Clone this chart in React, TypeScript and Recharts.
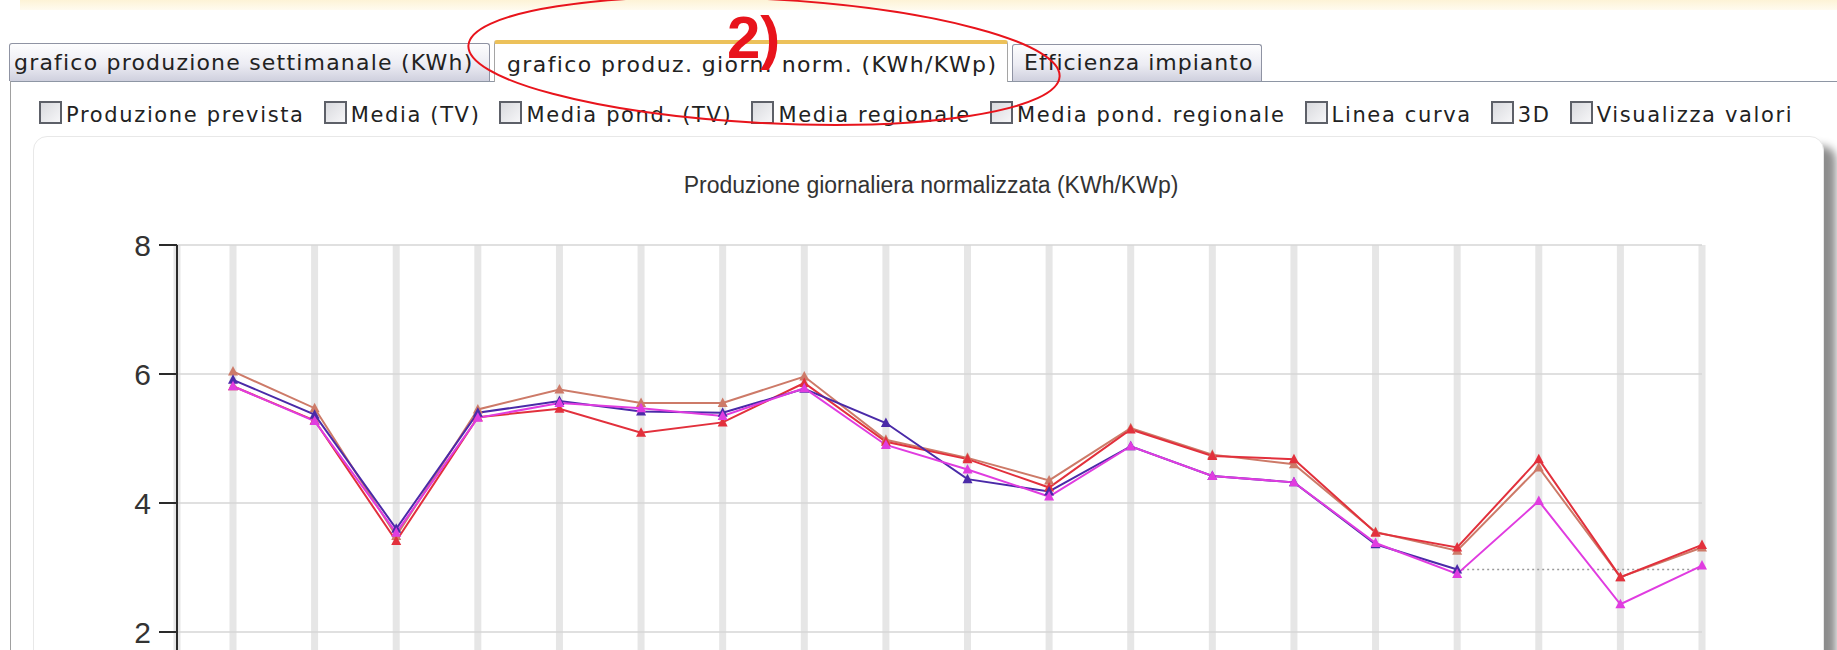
import { LineChart, Line, XAxis, YAxis, CartesianGrid } from 'recharts'

// giorni (etichette asse X, fuori dall'inquadratura)
const days = ['1', '2', '3', '4', '5', '6', '7', '8', '9', '10', '11', '12', '13', '14', '15', '16', '17', '18', '19']

// KWh/KWp per giorno
const serieArancio = [6.04, 5.47, 3.49, 5.45, 5.76, 5.55, 5.55, 5.96, 4.98, 4.70, 4.35, 5.16, 4.75, 4.60, 3.55, 3.26, 4.55, 2.85, 3.31]
const serieRossa = [5.81, 5.28, 3.41, 5.33, 5.46, 5.09, 5.25, 5.86, 4.95, 4.68, 4.24, 5.14, 4.73, 4.68, 3.54, 3.31, 4.68, 2.85, 3.35]
const serieBlu = [5.91, 5.37, 3.60, 5.40, 5.58, 5.42, 5.40, 5.77, 5.24, 4.37, 4.18, 4.88, 4.42, 4.32, 3.36, 2.97, null, null, null]
const serieMagenta = [5.81, 5.27, 3.54, 5.32, 5.55, 5.47, 5.35, 5.78, 4.90, 4.52, 4.10, 4.88, 4.42, 4.32, 3.38, 2.90, 4.03, 2.43, 3.03]
const serieTratteggio = [null, null, null, null, null, null, null, null, null, null, null, null, null, null, null, 2.97, 2.97, 2.97, 2.97]

const yTicks = [0, 2, 4, 6, 8]

const tabs = ['grafico produzione settimanale (KWh)', 'grafico produz. giorn. norm. (KWh/KWp)', 'Efficienza impianto']
const options = ['Produzione prevista', 'Media (TV)', 'Media pond. (TV)', 'Media regionale', 'Media pond. regionale', 'Linea curva', '3D', 'Visualizza valori']

const data = days.map((d, i) => ({
  day: d,
  arancio: serieArancio[i],
  rossa: serieRossa[i],
  blu: serieBlu[i],
  magenta: serieMagenta[i],
  tratt: serieTratteggio[i],
}))

const uiFont = '"DejaVu Sans", Tahoma, sans-serif'
const chartFont = '"Liberation Sans", Arial, sans-serif'

// triangolino come marker
const triangle = (color: string) => (props: any) => {
  const { cx, cy, index } = props
  if (cx == null || cy == null || props.value == null) return <g key={`t-${index}`} />
  return (
    <polygon
      key={`t-${index}`}
      points={`${cx},${cy - 5.5} ${cx - 5},${cy + 4} ${cx + 5},${cy + 4}`}
      fill={color}
    />
  )
}

const tabBase = {
  position: 'absolute' as const,
  fontFamily: uiFont,
  fontSize: 22,
  letterSpacing: 1.4,
  color: '#222',
  whiteSpace: 'nowrap' as const,
  boxSizing: 'border-box' as const,
}

const tabGradient = 'linear-gradient(#fdfdfe, #ececf3 55%, #cfd0de)'

export default function App() {
  return (
    <div
      style={{
        position: 'absolute',
        left: 0,
        top: 0,
        width: 1837,
        height: 650,
        overflow: 'hidden',
        background: '#fff',
      }}
    >
      {/* striscia gialla in alto */}
      <div style={{ position: 'absolute', left: 20, top: 0, width: 1817, height: 10, background: 'linear-gradient(#fdf3d6, #fffbef)' }} />

      {/* linea base delle schede + bordo sinistro */}
      <div style={{ position: 'absolute', left: 10, top: 81, width: 1827, height: 1, background: '#8e96a4' }} />
      <div style={{ position: 'absolute', left: 10, top: 81, width: 1, height: 600, background: '#a0a0a0' }} />

      {/* schede */}
      <div
        style={{
          ...tabBase,
          left: 9,
          top: 43,
          width: 481,
          height: 38,
          paddingTop: 6,
          paddingLeft: 4,
          letterSpacing: 1.2,
          border: '1px solid #8f93a3',
          borderBottom: 'none',
          borderRadius: '3px 3px 0 0',
          background: tabGradient,
        }}
      >
        {tabs[0]}
      </div>
      <div
        style={{
          ...tabBase,
          left: 494,
          top: 40,
          width: 514,
          height: 42,
          paddingTop: 8,
          paddingLeft: 12,
          borderLeft: '1px solid #a5a5a5',
          borderRight: '1px solid #a5a5a5',
          borderTop: '4px solid #ecc15a',
          borderRadius: '3px 3px 0 0',
          background: '#fff',
        }}
      >
        {tabs[1]}
      </div>
      <div
        style={{
          ...tabBase,
          left: 1012,
          top: 44,
          width: 250,
          height: 37,
          paddingTop: 5,
          paddingLeft: 11,
          letterSpacing: 1,
          border: '1px solid #8f93a3',
          borderBottom: 'none',
          borderRadius: '3px 3px 0 0',
          background: tabGradient,
        }}
      >
        {tabs[2]}
      </div>

      {/* opzioni */}
      <div
        style={{
          position: 'absolute',
          left: 39,
          top: 98,
          height: 28,
          display: 'flex',
          alignItems: 'center',
          fontFamily: uiFont,
          fontSize: 21,
          letterSpacing: 1.65,
          color: '#222',
          whiteSpace: 'nowrap',
        }}
      >
        {options.map((o) => (
          <div key={o} style={{ display: 'flex', alignItems: 'center', marginRight: 19 }}>
            <div
              style={{
                width: 23,
                height: 23,
                boxSizing: 'border-box',
                border: '2px solid #5d6068',
                background: 'linear-gradient(135deg, #d9dade, #f6f6f8)',
                marginRight: 4,
              }}
            />
            <span style={{ position: 'relative', top: 3 }}>{o}</span>
          </div>
        ))}
      </div>

      {/* pannello del grafico */}
      <div
        style={{
          position: 'absolute',
          left: 33,
          top: 136,
          width: 1789,
          height: 620,
          background: '#fff',
          border: '1px solid #e8e8e8',
          borderRadius: 14,
          boxShadow: '12px 10px 8px rgba(0,0,0,0.45)',
        }}
      />

      <div
        style={{
          position: 'absolute',
          left: 0,
          width: 1862,
          top: 172,
          textAlign: 'center',
          fontFamily: chartFont,
          fontSize: 23,
          color: '#333',
        }}
      >
        Produzione giornaliera normalizzata (KWh/KWp)
      </div>

      <div style={{ position: 'absolute', left: 0, top: 0 }}>
        <LineChart
          width={1837}
          height={800}
          data={data}
          margin={{ top: 245, right: 135, bottom: 39, left: 117 }}
        >
          <CartesianGrid horizontal={false} stroke="#e6e6e6" strokeWidth={7} />
          <CartesianGrid vertical={false} stroke="#d6d6d6" strokeWidth={1.5} />
          <XAxis dataKey="day" hide padding={{ left: 56, right: 0 }} />
          <YAxis
            width={60}
            domain={[0, 8]}
            ticks={yTicks}
            tickSize={18}
            tickMargin={8}
            stroke="#2a2a2a"
            strokeWidth={2}
            tick={{ fontSize: 30, fill: '#333', fontFamily: chartFont }}
            tickFormatter={(v) => (v === 0 ? '' : String(v))}
          />
          <Line
            dataKey="tratt"
            stroke="#9a9a9a"
            strokeWidth={1.5}
            strokeDasharray="2 3"
            dot={false}
            isAnimationActive={false}
          />
          <Line dataKey="arancio" stroke="#cd7a68" strokeWidth={2} dot={triangle('#cd7a68')} isAnimationActive={false} />
          <Line dataKey="rossa" stroke="#e2303c" strokeWidth={2} dot={triangle('#e2303c')} isAnimationActive={false} />
          <Line dataKey="blu" stroke="#4a2aa8" strokeWidth={2} dot={triangle('#4a2aa8')} isAnimationActive={false} />
          <Line dataKey="magenta" stroke="#e03ce0" strokeWidth={2} dot={triangle('#e03ce0')} isAnimationActive={false} />
        </LineChart>
      </div>

      {/* annotazione rossa */}
      <svg style={{ position: 'absolute', left: 0, top: 0 }} width={1837} height={650}>
        <ellipse cx={764} cy={61} rx={296} ry={62} fill="none" stroke="#e8141c" strokeWidth={2} transform="rotate(3 764 61)" />
        <text x={727} y={58} fill="#e8141c" fontFamily={chartFont} fontWeight="bold" fontSize={60}>
          2)
        </text>
      </svg>
    </div>
  )
}
